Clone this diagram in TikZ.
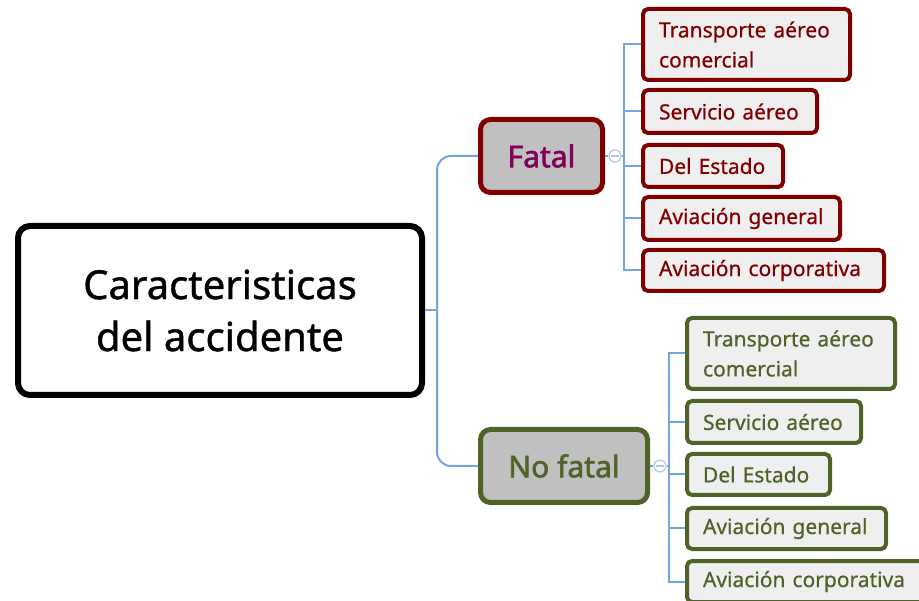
\documentclass[tikz,border=0pt]{standalone}
\usepackage{fontspec}
\setmainfont{Noto Sans}
\newfontfamily\heavyfont[FakeBold=1]{Noto Sans}
\newfontfamily\boldishfont[FakeBold=1.8]{Noto Sans}
\newfontfamily\medfont[FakeBold=0.6]{Noto Sans}
\definecolor{fred}{RGB}{128,0,0}
\definecolor{fpurp}{RGB}{128,0,90}
\definecolor{fgreen}{RGB}{79,98,40}
\definecolor{conncol}{RGB}{118,163,226}
\definecolor{midgray}{RGB}{192,192,192}
\definecolor{leafgray}{RGB}{239,239,239}
\begin{document}
\begin{tikzpicture}[x=1pt,y=-1pt,
  rootbox/.style={draw=black, line width=6pt, rounded corners=12pt, fill=white,
    minimum width=404pt, minimum height=169pt, align=center,
    font=\heavyfont\fontsize{40}{52}\selectfont},
  midbox/.style={line width=5pt, rounded corners=10pt, fill=midgray,
    minimum height=73pt, font=\boldishfont\fontsize{30}{34}\selectfont},
  leafbox/.style={line width=4pt, rounded corners=5pt, fill=leafgray,
    inner xsep=16pt, align=left, font=\medfont\fontsize{21}{30}\selectfont},
  redleaf/.style={leafbox, draw=fred, text=fred},
  greenleaf/.style={leafbox, draw=fgreen, text=fgreen},
  conn/.style={draw=conncol, line width=2pt},
  togglebox/.style={circle, draw=conncol!60, fill=white, line width=1.2pt, minimum size=12pt, inner sep=0pt}
]
\useasboundingbox (0,0) rectangle (919,601);

\node[rootbox] (root) at (220,310.5) {Caracteristicas\\del accidente};
\node[midbox, draw=fred, text=fpurp, minimum width=122pt] (fatal) at (541.5,156) {Fatal};
\node[midbox, draw=fgreen, text=fgreen, minimum width=167pt] (nofatal) at (564,466) {No fatal};

% Fatal leaves
\node[redleaf, minimum width=207pt, minimum height=71pt, text width=175pt] (f1) at (746.5,44.5) {Transporte aéreo\\comercial};
\node[redleaf, minimum width=174pt, minimum height=43pt, text width=142pt] (f2) at (730,111.5) {Servicio aéreo};
\node[redleaf, minimum width=140pt, minimum height=42pt, text width=108pt] (f3) at (713,166) {Del Estado};
\node[redleaf, minimum width=197pt, minimum height=43pt, text width=165pt] (f4) at (741.5,218.5) {Aviación general};
\node[redleaf, minimum width=241pt, minimum height=41pt, text width=209pt] (f5) at (763.5,270.5) {Aviación corporativa};

% No fatal leaves
\node[greenleaf, minimum width=208pt, minimum height=71pt, text width=176pt] (g1) at (791,353.5) {Transporte aéreo\\comercial};
\node[greenleaf, minimum width=174pt, minimum height=42pt, text width=142pt] (g2) at (774,422) {Servicio aéreo};
\node[greenleaf, minimum width=143pt, minimum height=41pt, text width=111pt] (g3) at (758.5,474.5) {Del Estado};
\node[greenleaf, minimum width=199pt, minimum height=41pt, text width=167pt] (g4) at (786.5,528.5) {Aviación general};
\node[greenleaf, minimum width=241pt, minimum height=41pt, text width=209pt] (g5) at (807.5,581.5) {Aviación corporativa};

% root connectors
\coordinate (rj) at (437,310.5);
\draw[conn] (root.east) -- (rj);
\draw[conn, rounded corners=14pt] (fatal.west) -| (rj) |- (nofatal.west);

% fatal connectors
\coordinate (ft) at (624,156);
\node[togglebox] (ftog) at (615,156) {};
\draw[conn] (fatal.east) -- (ftog.west);
\draw[conn] (ftog.east) -- (ft);
\draw[conn] (f1.west) -| (ft) |- (f5.west);
\draw[conn] (f2.west -| ft) -- (f2.west);
\draw[conn] (f3.west -| ft) -- (f3.west);
\draw[conn] (f4.west -| ft) -- (f4.west);
\draw[conncol!60, line width=1.2pt] ([xshift=3pt]ftog.west) -- ([xshift=-3pt]ftog.east);

% no fatal connectors
\coordinate (gt) at (669,466);
\node[togglebox] (gtog) at (660,466) {};
\draw[conn] (nofatal.east) -- (gtog.west);
\draw[conn] (gtog.east) -- (gt);
\draw[conn] (g1.west) -| (gt) |- (g5.west);
\draw[conn] (g2.west -| gt) -- (g2.west);
\draw[conn] (g3.west -| gt) -- (g3.west);
\draw[conn] (g4.west -| gt) -- (g4.west);
\draw[conncol!60, line width=1.2pt] ([xshift=3pt]gtog.west) -- ([xshift=-3pt]gtog.east);
\end{tikzpicture}
\end{document}
